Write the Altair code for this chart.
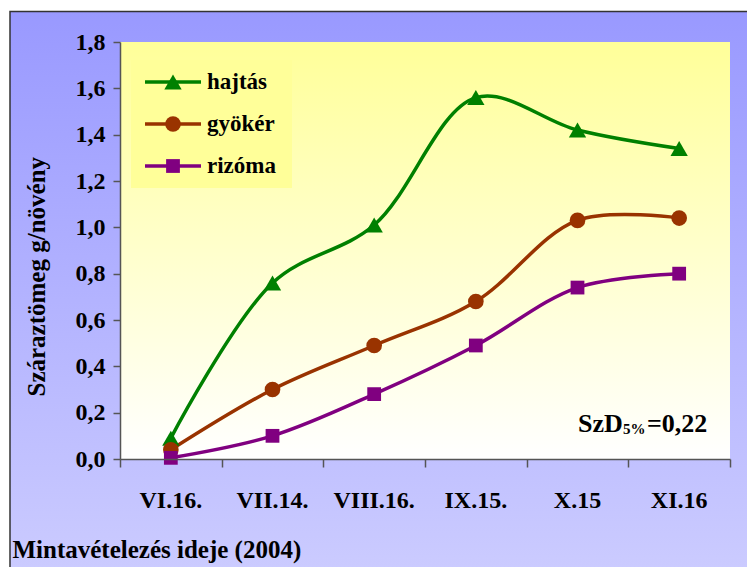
import altair as alt
import pandas as pd

# Sampling dates and dry-matter values (g/plant) per plant organ
dates = ["VI.16.", "VII.14.", "VIII.16.", "IX.15.", "X.15", "XI.16"]
series = ["hajtás", "gyökér", "rizóma"]
hajtas = [0.09, 0.76, 1.01, 1.56, 1.42, 1.34]
gyoker = [0.04, 0.30, 0.49, 0.68, 1.03, 1.04]
rizoma = [0.005, 0.10, 0.28, 0.49, 0.74, 0.80]
y_ticks = [0.0, 0.2, 0.4, 0.6, 0.8, 1.0, 1.2, 1.4, 1.6, 1.8]

colors = ["#008000", "#993300", "#800080"]
shapes = ["triangle-up", "circle", "square"]
sizes = [300, 190, 200]

FONT = "Liberation Serif, Tinos, Times, DejaVu Serif, serif"
W, H = 610, 417

rows = []
for name, vals in zip(series, [hajtas, gyoker, rizoma]):
    for i, v in enumerate(vals):
        rows.append({"series": name, "pos": i + 0.5, "date": dates[i], "value": v})
df = pd.DataFrame(rows)

color_enc = alt.Color("series:N", scale=alt.Scale(domain=series, range=colors), legend=None)
shape_enc = alt.Shape("series:N", scale=alt.Scale(domain=series, range=shapes), legend=None)
size_enc = alt.Size("series:N", scale=alt.Scale(domain=series, range=sizes), legend=None)

x_scale = alt.Scale(domain=[0, 6], nice=False, zero=False)
y_scale = alt.Scale(domain=[0, 1.8], nice=False)

one = pd.DataFrame({"k": [0]})

# outer lavender frame
outer = alt.Chart(one).mark_rect(
    fill=alt.LinearGradient(
        gradient="linear",
        stops=[alt.GradientStop(color="#9999FF", offset=0),
               alt.GradientStop(color="#CCCCFF", offset=1)],
        x1=0, x2=0, y1=0, y2=1),
    stroke="#333333", strokeWidth=1.5,
).encode(x=alt.value(-110), x2=alt.value(W + 40), y=alt.value(-30.5), y2=alt.value(H + 120))

# yellow-to-white plot background
plot_bg = alt.Chart(one).mark_rect(
    fill=alt.LinearGradient(
        gradient="linear",
        stops=[alt.GradientStop(color="#FFFF99", offset=0),
               alt.GradientStop(color="#FFFFFF", offset=1)],
        x1=0, x2=0, y1=0, y2=1),
).encode(x=alt.value(0), x2=alt.value(W), y=alt.value(0), y2=alt.value(H))

lines = alt.Chart(df).mark_line(interpolate="catmull-rom", strokeWidth=3.5).encode(
    x=alt.X("pos:Q", scale=x_scale,
            axis=alt.Axis(values=list(range(7)), labels=False, tickSize=8, grid=False, zindex=2,
                          title="Mintavételezés ideje (2004)", titleX=-108, titleY=98,
                          titleAlign="left", titleBaseline="alphabetic", titleAnchor="start")),
    y=alt.Y("value:Q", scale=y_scale,
            axis=alt.Axis(values=y_ticks, tickSize=7, grid=False, labelPadding=8, zindex=2,
                          labelExpr="replace(format(datum.value, '.1f'), '.', ',')",
                          title="Száraztömeg g/növény", titleX=-84, titleY=354,
                          titleAngle=-90, titleAlign="left", titleBaseline="middle")),
    color=color_enc,
    detail="series:N",
    order="pos:Q",
)

points = alt.Chart(df).mark_point(filled=True, opacity=1).encode(
    x=alt.X("pos:Q", scale=x_scale),
    y=alt.Y("value:Q", scale=y_scale),
    color=color_enc, shape=shape_enc, size=size_enc,
)

# category labels under the x axis
cat_df = pd.DataFrame({"pos": [i + 0.5 for i in range(len(dates))], "date": dates})
cat_labels = alt.Chart(cat_df).mark_text(
    font=FONT, fontSize=24, fontWeight="bold", baseline="alphabetic", align="center", color="black"
).encode(x=alt.X("pos:Q", scale=x_scale), y=alt.value(466), text="date:N")

# legend box with line+marker samples
leg_df = pd.DataFrame({"series": series, "row": [40 + 42 * i for i in range(len(series))]})
leg_box = alt.Chart(one).mark_rect(fill="#FFFF99").encode(
    x=alt.value(11), x2=alt.value(172), y=alt.value(18), y2=alt.value(146))
leg_lines = alt.Chart(leg_df).mark_rule(strokeWidth=3.5).encode(
    x=alt.value(25), x2=alt.value(81), y=alt.Y("row:Q", scale=None), color=color_enc)
leg_pts = alt.Chart(leg_df).mark_point(filled=True, opacity=1).encode(
    x=alt.value(53), y=alt.Y("row:Q", scale=None), color=color_enc, shape=shape_enc, size=size_enc)
leg_text = alt.Chart(leg_df).mark_text(
    font=FONT, fontSize=23, fontWeight="bold", align="left", baseline="middle", color="black"
).encode(x=alt.value(87), y=alt.Y("row:Q", scale=None), text="series:N")

# LSD annotation
szd_main = alt.Chart(one).mark_text(
    text="SzD", font=FONT, fontSize=26, fontWeight="bold", align="left", baseline="alphabetic", color="black"
).encode(x=alt.value(458), y=alt.value(390))
szd_sub = alt.Chart(one).mark_text(
    text="5%", font=FONT, fontSize=15, fontWeight="bold", align="left", baseline="alphabetic", color="black"
).encode(x=alt.value(503), y=alt.value(392))
szd_val = alt.Chart(one).mark_text(
    text="=0,22", font=FONT, fontSize=26, fontWeight="bold", align="left", baseline="alphabetic", color="black"
).encode(x=alt.value(527), y=alt.value(390))

chart = alt.layer(
    outer, plot_bg, leg_box, lines, points, cat_labels,
    leg_lines, leg_pts, leg_text, szd_main, szd_sub, szd_val,
).properties(
    width=W, height=H,
    autosize=alt.AutoSizeParams(type="none"),
    padding={"left": 120, "top": 42, "right": 17, "bottom": 108},
    background="white",
).configure_view(stroke=None).configure_axis(
    domainColor="#555555", domainWidth=1.5,
    tickColor="#555555", tickWidth=1.5,
    labelFont=FONT, labelFontSize=24, labelFontWeight="bold", labelColor="black",
    titleFont=FONT, titleFontSize=25, titleFontWeight="bold", titleColor="black",
)

chart.save("out.html", embed_options={"renderer": "svg", "actions": False})
